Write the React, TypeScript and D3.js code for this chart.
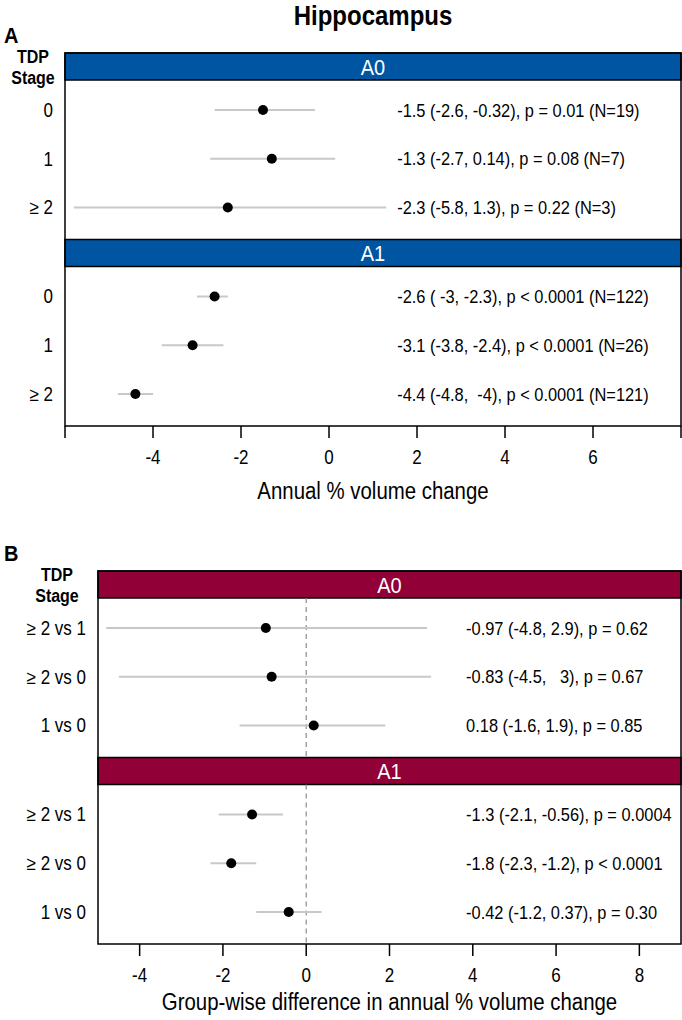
import React, { useRef, useEffect } from "react";
import { select, scaleLinear, scalePoint } from "d3";

// panel A: annual % volume change by TDP stage
const stagesA = ["0", "1", "≥ 2"];
const estA0 = [-1.5, -1.3, -2.3];
const lowA0 = [-2.6, -2.7, -5.8];
const highA0 = [-0.32, 0.14, 1.3];
const textA0 = [
  "-1.5 (-2.6, -0.32), p = 0.01 (N=19)",
  "-1.3 (-2.7, 0.14), p = 0.08 (N=7)",
  "-2.3 (-5.8, 1.3), p = 0.22 (N=3)",
];
const estA1 = [-2.6, -3.1, -4.4];
const lowA1 = [-3, -3.8, -4.8];
const highA1 = [-2.3, -2.4, -4];
const textA1 = [
  "-2.6 ( -3, -2.3), p < 0.0001 (N=122)",
  "-3.1 (-3.8, -2.4), p < 0.0001 (N=26)",
  "-4.4 (-4.8,  -4), p < 0.0001 (N=121)",
];
const ticksA = [-6, -4, -2, 0, 2, 4, 6, 8];
const tickLabelsA = ["", "-4", "-2", "0", "2", "4", "6", ""];

// panel B: group-wise differences
const stagesB = ["≥ 2 vs 1", "≥ 2 vs 0", "1 vs 0"];
const estB0 = [-0.97, -0.83, 0.18];
const lowB0 = [-4.8, -4.5, -1.6];
const highB0 = [2.9, 3, 1.9];
const textB0 = [
  "-0.97 (-4.8, 2.9), p = 0.62",
  "-0.83 (-4.5,   3), p = 0.67",
  "0.18 (-1.6, 1.9), p = 0.85",
];
const estB1 = [-1.3, -1.8, -0.42];
const lowB1 = [-2.1, -2.3, -1.2];
const highB1 = [-0.56, -1.2, 0.37];
const textB1 = [
  "-1.3 (-2.1, -0.56), p = 0.0004",
  "-1.8 (-2.3, -1.2), p < 0.0001",
  "-0.42 (-1.2, 0.37), p = 0.30",
];
const ticksB = [-4, -2, 0, 2, 4, 6, 8];

const FONT = "'Liberation Sans', Arial, sans-serif";
const SQ = 0.88; // the original text is a bit narrower than Arial

// text squeezed horizontally so it is as tall as in the original
function label(g, x, y, s, size, extra = {}) {
  const t = g.append("text")
    .attr("transform", `translate(${x},${y}) scale(${SQ},1)`)
    .attr("font-size", size / SQ)
    .style("white-space", "pre")
    .text(s);
  Object.entries(extra).forEach(([k, v]) => t.attr(k, v));
  return t;
}

function drawPanel(svg, p) {
  const x = scaleLinear().domain(p.domain).range([p.left, 681]);
  const g = svg.append("g");
  const headerH = 27;
  const contentH = 159.5;

  label(g, 4, p.top - 10, p.letter, 20, { "font-weight": "bold" });
  label(g, p.stageX, p.top + 10, "TDP", 16, { "font-weight": "bold", "text-anchor": "middle" });
  label(g, p.stageX, p.top + 31, "Stage", 16, { "font-weight": "bold", "text-anchor": "middle" });

  p.facets.forEach((f, i) => {
    const hTop = p.top + i * (headerH + contentH);
    const cTop = hTop + headerH;
    const cBot = cTop + contentH;
    const y = scalePoint().domain(p.cats).range([cTop + 30, cBot - 32]);

    g.append("rect")
      .attr("x", p.left).attr("y", hTop)
      .attr("width", 681 - p.left).attr("height", headerH)
      .attr("fill", p.color).attr("stroke", "black").attr("stroke-width", 1.5);
    label(g, (p.left + 681) / 2, hTop + headerH / 2, f.name, 20, {
      dy: "0.36em", "text-anchor": "middle", fill: "white",
    });

    if (p.zeroLine) {
      g.append("line")
        .attr("x1", x(0)).attr("x2", x(0))
        .attr("y1", cTop).attr("y2", cBot)
        .attr("stroke", "#8c8c8c").attr("stroke-width", 1.2)
        .attr("stroke-dasharray", "5,4");
    }

    const rows = p.cats.map((c, k) => ({
      c, est: f.est[k], lo: f.low[k], hi: f.high[k], txt: f.text[k],
    }));

    g.selectAll(null).data(rows).join("line")
      .attr("x1", (d) => x(d.lo)).attr("x2", (d) => x(d.hi))
      .attr("y1", (d) => y(d.c)).attr("y2", (d) => y(d.c))
      .attr("stroke", "#c8c8c8").attr("stroke-width", 2);
    g.selectAll(null).data(rows).join("circle")
      .attr("cx", (d) => x(d.est)).attr("cy", (d) => y(d.c))
      .attr("r", 5).attr("fill", "black");
    rows.forEach((d) => {
      label(g, x(p.textAt), y(d.c), d.txt, 16.4, { dy: "0.36em" });
      label(g, p.left - 12, y(d.c), d.c, 17, { dy: "0.36em", "text-anchor": "end" });
    });
  });

  const bottom = p.top + 2 * (headerH + contentH);
  g.append("rect")
    .attr("x", p.left).attr("y", p.top)
    .attr("width", 681 - p.left).attr("height", bottom - p.top)
    .attr("fill", "none").attr("stroke", "black").attr("stroke-width", 1.5);

  g.selectAll(null).data(p.ticks).join("line")
    .attr("x1", (d) => x(d)).attr("x2", (d) => x(d))
    .attr("y1", bottom).attr("y2", bottom + 12)
    .attr("stroke", "black").attr("stroke-width", 1.5);
  p.ticks.forEach((d, k) => {
    label(g, x(d), bottom + 38, p.tickLabels[k], 17, { "text-anchor": "middle" });
  });
  label(g, (p.left + 681) / 2, bottom + p.titleOff, p.title, 20.4, { "text-anchor": "middle" });
}

export default function App() {
  const svgRef = useRef(null);

  useEffect(() => {
    const svg = select(svgRef.current);
    svg.selectAll("*").remove();
    svg.attr("font-family", FONT);

    label(svg, 373, 25, "Hippocampus", 24, { "text-anchor": "middle", "font-weight": "bold" });

    drawPanel(svg, {
      letter: "A", top: 53, left: 65, stageX: 33, domain: [-6, 8],
      color: "#0055a2", cats: stagesA, textAt: 1.55, zeroLine: false,
      ticks: ticksA, tickLabels: tickLabelsA, title: "Annual % volume change", titleOff: 73,
      facets: [
        { name: "A0", est: estA0, low: lowA0, high: highA0, text: textA0 },
        { name: "A1", est: estA1, low: lowA1, high: highA1, text: textA1 },
      ],
    });
    drawPanel(svg, {
      letter: "B", top: 571, left: 98, stageX: 57, domain: [-5, 9],
      color: "#920038", cats: stagesB, textAt: 3.84, zeroLine: true,
      ticks: ticksB, tickLabels: ticksB.map(String),
      title: "Group-wise difference in annual % volume change", titleOff: 66,
      facets: [
        { name: "A0", est: estB0, low: lowB0, high: highB0, text: textB0 },
        { name: "A1", est: estB1, low: lowB1, high: highB1, text: textB1 },
      ],
    });
  }, []);

  return (
    <svg
      ref={svgRef}
      width={682}
      height={1020}
      style={{ position: "absolute", left: 0, top: 0, background: "white" }}
    />
  );
}
